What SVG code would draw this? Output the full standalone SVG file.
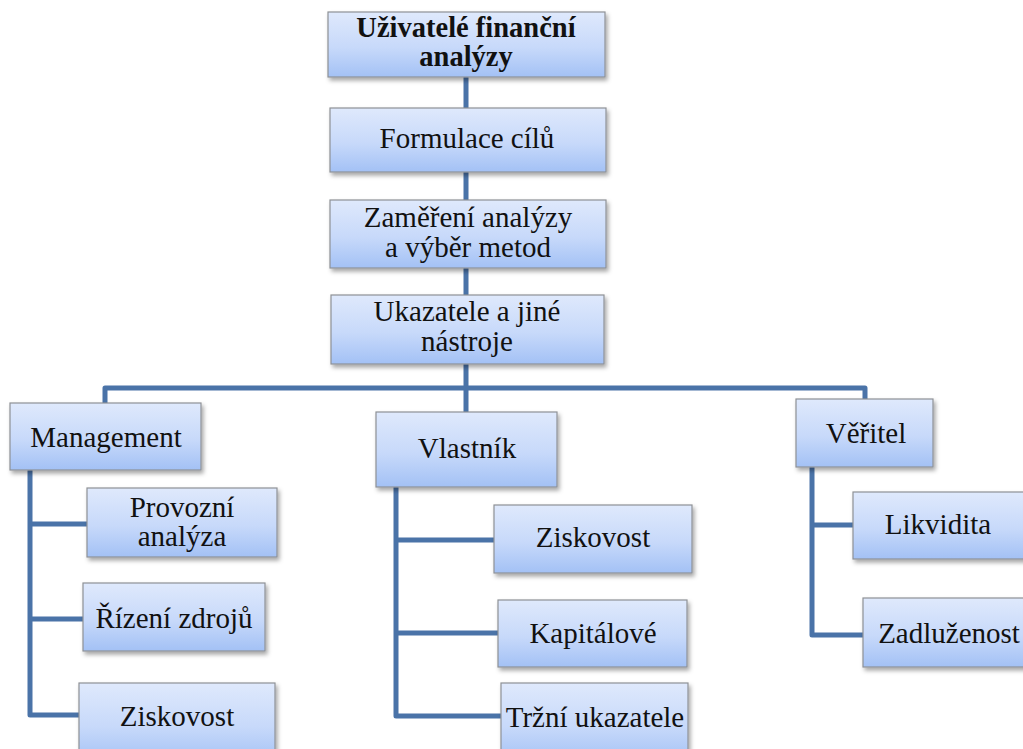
<svg xmlns="http://www.w3.org/2000/svg" width="1023" height="749" viewBox="0 0 1023 749">
<defs>
<linearGradient id="g" x1="0" y1="0" x2="0" y2="1">
<stop offset="0" stop-color="#dfe9fc"/>
<stop offset="0.55" stop-color="#c7d9fa"/>
<stop offset="1" stop-color="#a3c1f5"/>
</linearGradient>
<filter id="sh" x="-10%" y="-10%" width="125%" height="130%">
<feDropShadow dx="2" dy="3" stdDeviation="2" flood-color="#000" flood-opacity="0.35"/>
</filter>
<style>
.box{fill:url(#g);stroke:#8e9196;stroke-width:1.2;filter:url(#sh)}
.c{fill:none;stroke:#4a73a8;stroke-width:5;stroke-linejoin:round;stroke-linecap:butt}
</style>
</defs>
<rect width="1023" height="749" fill="#fff"/>
<g id="connectors">
<path class="c" d="M466 77V108M466 172V200M466 268V295M466 364V388"/>
<path class="c" d="M105 403V388H865V399M466 388V412"/>
<path class="c" d="M30 470V715H79M30 524H87M30 619H83"/>
<path class="c" d="M396 487V716H501M396 540H494M396 633H498"/>
<path class="c" d="M812 467V635H863M812 525H853"/>
</g>
<g id="nodes">
<g id="n_uzivatele"><rect class="box" x="328" y="12" width="277" height="65"/><text x="466" y="37" font-family="Liberation Serif, Times New Roman, serif" font-size="28.5" font-weight="bold" fill="#111" text-anchor="middle">Uživatelé finanční</text><text x="466" y="66" font-family="Liberation Serif, Times New Roman, serif" font-size="28.5" font-weight="bold" fill="#111" text-anchor="middle">analýzy</text></g>
<g id="n_formulace"><rect class="box" x="330" y="108" width="276" height="64"/><text x="467" y="148" font-family="Liberation Serif, Times New Roman, serif" font-size="29" fill="#111" text-anchor="middle">Formulace cílů</text></g>
<g id="n_zamereni"><rect class="box" x="330" y="200" width="276" height="68"/><text x="468" y="227" font-family="Liberation Serif, Times New Roman, serif" font-size="29" fill="#111" text-anchor="middle">Zaměření analýzy</text><text x="468" y="257" font-family="Liberation Serif, Times New Roman, serif" font-size="29" fill="#111" text-anchor="middle">a výběr metod</text></g>
<g id="n_ukazatele"><rect class="box" x="331" y="295" width="273" height="69"/><text x="467" y="321" font-family="Liberation Serif, Times New Roman, serif" font-size="29" fill="#111" text-anchor="middle">Ukazatele a jiné</text><text x="467" y="351" font-family="Liberation Serif, Times New Roman, serif" font-size="29" fill="#111" text-anchor="middle">nástroje</text></g>
<g id="n_management"><rect class="box" x="10" y="403" width="191" height="67"/><text x="106" y="447" font-family="Liberation Serif, Times New Roman, serif" font-size="29" fill="#111" text-anchor="middle">Management</text></g>
<g id="n_vlastnik"><rect class="box" x="376" y="412" width="181" height="75"/><text x="467" y="458" font-family="Liberation Serif, Times New Roman, serif" font-size="29" fill="#111" text-anchor="middle">Vlastník</text></g>
<g id="n_veritel"><rect class="box" x="796" y="399" width="137" height="68"/><text x="866" y="443" font-family="Liberation Serif, Times New Roman, serif" font-size="29" fill="#111" text-anchor="middle">Věřitel</text></g>
<g id="n_provozni"><rect class="box" x="87" y="488" width="190" height="69"/><text x="182" y="517" font-family="Liberation Serif, Times New Roman, serif" font-size="29" fill="#111" text-anchor="middle">Provozní</text><text x="182" y="546" font-family="Liberation Serif, Times New Roman, serif" font-size="29" fill="#111" text-anchor="middle">analýza</text></g>
<g id="n_rizeni"><rect class="box" x="83" y="583" width="182" height="68"/><text x="174" y="628" font-family="Liberation Serif, Times New Roman, serif" font-size="29" fill="#111" text-anchor="middle">Řízení zdrojů</text></g>
<g id="n_ziskovost1"><rect class="box" x="79" y="683" width="196" height="80"/><text x="177" y="726" font-family="Liberation Serif, Times New Roman, serif" font-size="29" fill="#111" text-anchor="middle">Ziskovost</text></g>
<g id="n_ziskovost2"><rect class="box" x="494" y="505" width="198" height="68"/><text x="593" y="547" font-family="Liberation Serif, Times New Roman, serif" font-size="29" fill="#111" text-anchor="middle">Ziskovost</text></g>
<g id="n_kapitalove"><rect class="box" x="498" y="600" width="189" height="67"/><text x="593" y="643" font-family="Liberation Serif, Times New Roman, serif" font-size="29" fill="#111" text-anchor="middle">Kapitálové</text></g>
<g id="n_trzni"><rect class="box" x="501" y="683" width="187" height="80"/><text x="595" y="727" font-family="Liberation Serif, Times New Roman, serif" font-size="29" fill="#111" text-anchor="middle">Tržní ukazatele</text></g>
<g id="n_likvidita"><rect class="box" x="853" y="492" width="175" height="67"/><text x="938" y="534" font-family="Liberation Serif, Times New Roman, serif" font-size="29" fill="#111" text-anchor="middle">Likvidita</text></g>
<g id="n_zadluzenost"><rect class="box" x="863" y="598" width="175" height="69"/><text x="949" y="643" font-family="Liberation Serif, Times New Roman, serif" font-size="29" fill="#111" text-anchor="middle">Zadluženost</text></g>
</g>
</svg>
